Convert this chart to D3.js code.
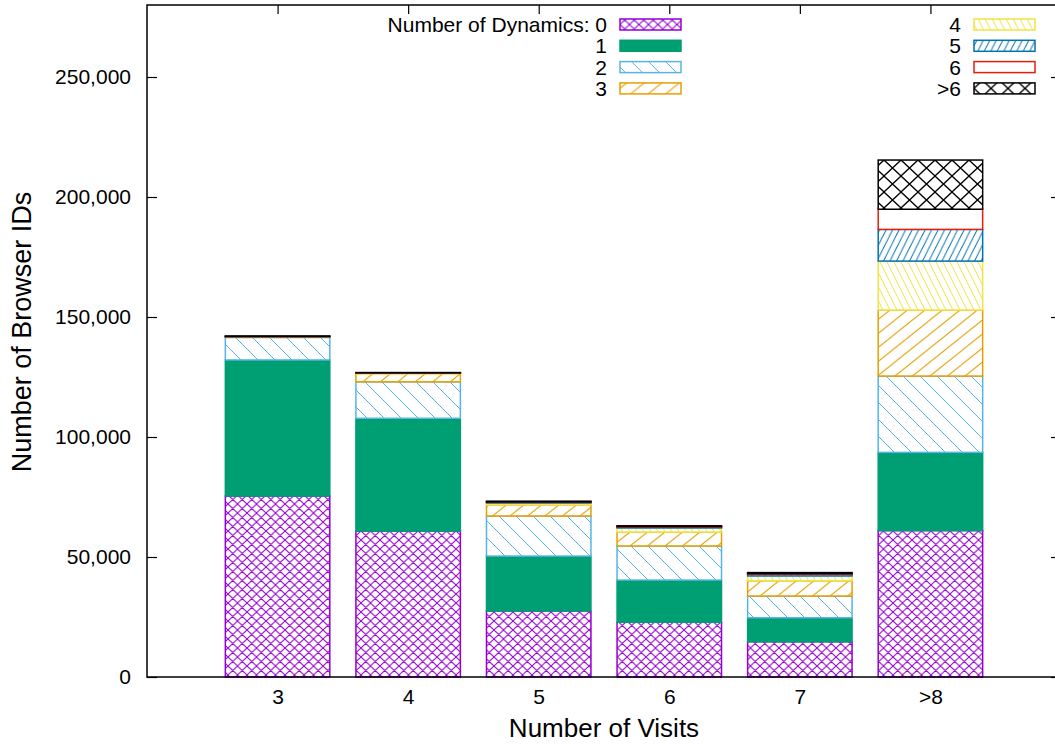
<!DOCTYPE html>
<html>
<head>
<meta charset="utf-8">
<script src="https://cdn.jsdelivr.net/npm/d3@7"></script>
<style>
body { margin: 0; background: #fff; }
text { font-family: "Liberation Sans", Arial, sans-serif; fill: #000; }
</style>
</head>
<body>
<div class="canva"></div>
<script>
// data
const visits = ["3", "4", "5", "6", "7", ">8"];
const dyn0 = [75400, 60800, 27500, 22800, 14700, 61000];
const dyn1 = [56700, 47000, 22900, 17600, 10000, 32600];
const dyn2 = [9400, 15200, 16700, 14200, 9050, 31800];
const dyn3 = [200, 3400, 4600, 5800, 6350, 27500];
const dyn4 = [100, 200, 800, 1700, 2000, 20400];
const dyn5 = [50, 100, 300, 400, 700, 13200];
const dyn6 = [30, 50, 150, 200, 300, 8400];
const dyn7 = [220, 100, 300, 300, 400, 20500];
const dynLabels = ["0", "1", "2", "3", "4", "5", "6", ">6"];
const yTicks = [0, 50000, 100000, 150000, 200000, 250000];

const series = [dyn0, dyn1, dyn2, dyn3, dyn4, dyn5, dyn6, dyn7];
const keys = d3.range(series.length);
const table = visits.map(function (v, i) {
    const row = { visit: v };
    keys.forEach(function (k) { row[k] = series[k][i]; });
    return row;
});

// look of each series (gnuplot style colours / fill patterns)
const colors = ["#9400d3", "#009e73", "#56b4e9", "#e69f00", "#f0e442", "#0072b2", "#e51e10", "#000000"];

const W = 1055, H = 744;
const plotL = 147, plotR = 1061, plotT = 5, plotB = 677;

const svg = d3.select(".canva").append("svg")
    .attr("width", W)
    .attr("height", H);

const defs = svg.append("defs");
function pattern(id, w, h, d, color, sw) {
    const p = defs.append("pattern")
        .attr("id", id)
        .attr("patternUnits", "userSpaceOnUse")
        .attr("width", w)
        .attr("height", h);
    p.append("rect").attr("width", w).attr("height", h).attr("fill", "#fff");
    p.append("path").attr("d", d)
        .attr("fill", "none")
        .attr("stroke", color)
        .attr("stroke-width", sw);
}
function back(w, h) { // "\"
    return "M" + (-w) + "," + (-h) + " L" + (2 * w) + "," + (2 * h) +
        " M" + (-w) + ",0 L" + w + "," + (2 * h) +
        " M0," + (-h) + " L" + (2 * w) + "," + h;
}
function fwd(w, h) { // "/"
    return "M" + (-w) + "," + (2 * h) + " L" + (2 * w) + "," + (-h) +
        " M" + (-w) + "," + h + " L" + w + "," + (-h) +
        " M0," + (2 * h) + " L" + (2 * w) + ",0";
}
function cross(w, h) {
    return back(w, h) + " " + fwd(w, h);
}
pattern("p0", 9.5, 9, cross(9.5, 9), colors[0], 1);
pattern("p2", 17, 17, back(17, 17), colors[2], 1);
pattern("p3", 17.5, 14, fwd(17.5, 14), colors[3], 1);
pattern("p4", 7, 14, back(7, 14), colors[4], 1);
pattern("p5", 6.5, 13, fwd(6.5, 13), colors[5], 1);
pattern("p7", 17, 16, cross(17, 16), colors[7], 1.3);
const fills = ["url(#p0)", colors[1], "url(#p2)", "url(#p3)", "url(#p4)", "url(#p5)", "#fff", "url(#p7)"];

const x = d3.scaleLinear().domain([2, 9]).range([plotL, plotR]);
const y = d3.scaleLinear().domain([0, 280000]).range([plotB, plotT]);
const barW = x(2.8) - x(2);

const stacked = d3.stack().keys(keys)(table);

// bars
const layers = svg.append("g").selectAll("g")
    .data(stacked)
    .enter().append("g")
    .attr("fill", function (d) { return fills[d.key]; })
    .attr("stroke", function (d) { return colors[d.key]; });

layers.selectAll("rect")
    .data(function (d) { return d; })
    .enter().append("rect")
    .attr("x", function (d, i) { return x(3 + i) - barW / 2; })
    .attr("y", function (d) { return y(d[1]); })
    .attr("height", function (d) { return y(d[0]) - y(d[1]); })
    .attr("width", barW)
    .attr("stroke-width", 1.5);

// frame
svg.append("rect")
    .attr("x", plotL)
    .attr("y", plotT)
    .attr("width", plotR - plotL)
    .attr("height", plotB - plotT)
    .attr("fill", "none")
    .attr("stroke", "#000")
    .attr("stroke-width", 1.5);

// y axis (ticks inward on both sides)
const yAxis = svg.append("g")
    .attr("transform", "translate(" + plotL + ",0)")
    .call(d3.axisLeft(y).tickValues(yTicks).tickSize(-10).tickPadding(16)
        .tickFormat(function (d) { return d === 0 ? "0" : d3.format(",")(d); }));
yAxis.select(".domain").remove();
yAxis.selectAll("line").attr("stroke", "#000").attr("stroke-width", 1.2);
yAxis.selectAll("text").attr("font-size", 21).attr("font-family", "Liberation Sans, Arial, sans-serif");

const yAxisR = svg.append("g")
    .attr("transform", "translate(" + plotR + ",0)")
    .call(d3.axisRight(y).tickValues(yTicks).tickSize(-10).tickFormat(""));
yAxisR.select(".domain").remove();
yAxisR.selectAll("line").attr("stroke", "#000").attr("stroke-width", 1.2);

// x axis: labels at the bottom, tick marks hang from the top border
const xAxis = svg.append("g")
    .attr("transform", "translate(0," + plotB + ")")
    .call(d3.axisBottom(x).tickValues(d3.range(3, 9)).tickSize(0).tickPadding(12)
        .tickFormat(function (d, i) { return visits[i]; }));
xAxis.select(".domain").remove();
xAxis.selectAll("text").attr("font-size", 21).attr("font-family", "Liberation Sans, Arial, sans-serif");

const xAxisTop = svg.append("g")
    .attr("transform", "translate(0," + plotT + ")")
    .call(d3.axisTop(x).tickValues(d3.range(3, 9)).tickSize(-9).tickFormat(""));
xAxisTop.select(".domain").remove();
xAxisTop.selectAll("line").attr("stroke", "#000").attr("stroke-width", 1.2);

// axis titles
svg.append("text")
    .attr("x", 604)
    .attr("y", 737)
    .attr("text-anchor", "middle")
    .attr("font-size", 26)
    .text("Number of Visits");

svg.append("text")
    .attr("transform", "translate(31,332) rotate(-90)")
    .attr("text-anchor", "middle")
    .attr("font-size", 27)
    .text("Number of Browser IDs");

// legend, two columns of four
const legend = svg.append("g").selectAll("g")
    .data(keys)
    .enter().append("g")
    .attr("transform", function (k) {
        const col = Math.floor(k / 4), row = k % 4;
        return "translate(" + (col === 0 ? 620 : 974) + "," + (24.5 + row * 21.3) + ")";
    });

legend.append("rect")
    .attr("x", 0)
    .attr("y", -5.5)
    .attr("width", 61)
    .attr("height", 11)
    .attr("fill", function (k) { return fills[k]; })
    .attr("stroke", function (k) { return colors[k]; })
    .attr("stroke-width", 1.5);

legend.append("text")
    .attr("x", -13)
    .attr("y", 7.5)
    .attr("text-anchor", "end")
    .attr("font-size", 21)
    .text(function (k) { return (k === 0 ? "Number of Dynamics: " : "") + dynLabels[k]; });
</script>
</body>
</html>
